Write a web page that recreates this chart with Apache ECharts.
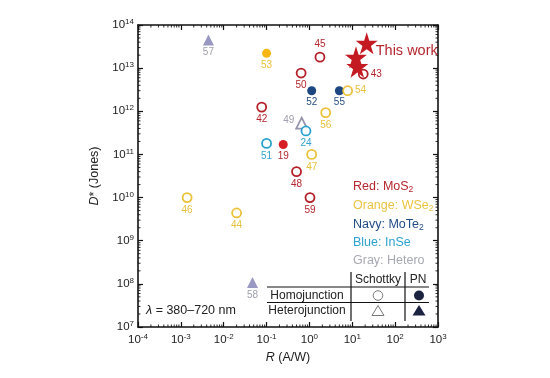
<!DOCTYPE html>
<html><head><meta charset="utf-8">
<script src="https://cdn.jsdelivr.net/npm/echarts@6/dist/echarts.min.js"></script>
<style>html,body{margin:0;padding:0;background:#fff}#c{width:550px;height:378px}</style>
</head><body><div id="c"></div>
<script>
// ---- data ----
const ids = ['57','53','45','50','52','55','54','43','42','56','49','24','51','19','47','48','59','46','44','58'];
const responsivity = [0.0044,0.1,1.76,0.64,1.13,5.0,7.8,18,0.077,2.4,0.66,0.83,0.1,0.245,1.13,0.5,1.03,0.0014,0.02,0.047];
const detectivity = [4.5e13,2.2e13,1.8e13,7.7e12,3e12,3e12,3e12,7.3e12,1.25e12,9.3e11,5.3e11,3.5e11,1.8e11,1.7e11,1e11,4e10,1e10,1e10,4.4e9,1.07e8];
const materials = ['Hetero','WSe2','MoS2','MoS2','MoTe2','MoTe2','WSe2','MoS2','MoS2','WSe2','Hetero','InSe','InSe','MoS2','WSe2','MoS2','MoS2','WSe2','WSe2','Hetero'];
const junctions = ['PN','PN','Schottky','Schottky','PN','PN','Schottky','Schottky','Schottky','Schottky','Schottky','Schottky','Schottky','PN','Schottky','Schottky','Schottky','Schottky','Schottky','PN'];
const thisWorkR = [21.7, 12.2, 13.1];
const thisWorkD = [3.76e13, 1.78e13, 1.08e13];
const xDecades = [-4,-3,-2,-1,0,1,2];
const yDecades = [7,8,9,10,11,12,13];
const minorMultipliers = [2,3,4,5,6,7,8,9];

// ---- styles ----
const FONT = 'Liberation Sans, Arial, sans-serif';
const openColor = {MoS2:'#B51F28', WSe2:'#EBC23A', MoTe2:'#1C4682', InSe:'#2AA2CE', Hetero:'#9494AC'};
const fillColor = {MoS2:'#D81E25', WSe2:'#F6B714', MoTe2:'#1C4682', InSe:'#2AA2CE', Hetero:'#9898C2'};
const labelColor = {MoS2:'#B5262E', WSe2:'#E8C13C', MoTe2:'#2A4F86', InSe:'#2FA3CF', Hetero:'#A0A0B0'};
const labelPos = {'45':'top','54':'right','43':'right','49':'left'};

const pts = ids.map((id,i)=>{
  const m = materials[i], pn = junctions[i]==='PN';
  const tri = m==='Hetero';
  const pos = labelPos[id]||'bottom';
  return {
    value:[responsivity[i], detectivity[i]],
    name:id,
    symbol: tri ? 'triangle' : 'circle',
    symbolSize: tri ? 11 : 9,
    itemStyle: pn ? {color: fillColor[m], opacity:1} : {color:'#fff', borderColor: openColor[m], borderWidth:1.8, opacity:1},
    label:{show:true, formatter:id, position:pos, distance: pos==='left'?1:2,
      offset: pos==='left'?[0,-3]:[0,0],
      color: labelColor[m], fontSize:10, fontFamily:FONT}
  };
});
const stars = thisWorkR.map((r,i)=>({
  value:[r, thisWorkD[i]],
  label: i===0 ? {show:true, formatter:'This work', position:'right', distance:-2, offset:[0,8], color:'#B5262E', fontSize:14.5, fontFamily:FONT} : {show:false}
}));

const xMinor = [], yMinor = [];
xDecades.forEach(e=>minorMultipliers.forEach(m=>xMinor.push([m*Math.pow(10,e), 1e10])));
yDecades.forEach(e=>minorMultipliers.forEach(m=>yMinor.push([1, m*Math.pow(10,e)])));

const supLabel = v => '{b|10}{s|' + Math.round(Math.log10(v)) + '}';
const richSup = {b:{fontSize:11.5, color:'#222', fontFamily:FONT}, s:{fontSize:8, color:'#222', fontFamily:FONT, verticalAlign:'top', padding:[0,0,6,0]}};

function baseAxis(extra){
  return Object.assign({
    type:'log', logBase:10,
    axisLine:{show:true, onZero:false, lineStyle:{color:'#111', width:1.6}},
    axisTick:{show:true, inside:true, length:5, lineStyle:{color:'#111', width:1.2}},
    minorTick:{show:false},
    splitLine:{show:false}, minorSplitLine:{show:false}
  }, extra);
}
const tickStyle = {stroke:'#111', lineWidth:0.9};
const MINOR = 2.5;

const option = {
  animation:false,
  grid:{left:138, top:25, width:300, height:302, containLabel:false},
  xAxis:[
    baseAxis({position:'bottom', min:1e-4, max:1e3,
      axisLabel:{formatter:supLabel, rich:richSup, margin:6},
      name:'{i|R} (A/W)', nameLocation:'middle', nameGap:21,
      nameTextStyle:{fontSize:12.5, color:'#222', fontFamily:FONT, rich:{i:{fontStyle:'italic', fontSize:12.5, color:'#222', fontFamily:FONT}}}}),
    baseAxis({position:'top', min:1e-4, max:1e3, axisLabel:{show:false}})
  ],
  yAxis:[
    baseAxis({position:'left', min:1e7, max:1e14,
      axisLabel:{formatter:supLabel, rich:richSup, margin:4},
      name:'{i|D}{n|*} (Jones)', nameLocation:'middle', nameGap:30,
      nameTextStyle:{fontSize:12.5, color:'#222', fontFamily:FONT, rich:{i:{fontStyle:'italic', fontSize:12.5, color:'#222', fontFamily:FONT}, n:{fontSize:12.5, color:'#222', fontFamily:FONT}}}}),
    baseAxis({position:'right', min:1e7, max:1e14, axisLabel:{show:false}})
  ],
  series:[
    {type:'custom', xAxisIndex:0, yAxisIndex:0, data:xMinor, silent:true, clip:false, z:1,
      renderItem:(params, api)=>{
        const p = api.coord([api.value(0), api.value(1)]);
        const cs = params.coordSys, b = cs.y+cs.height, t = cs.y;
        return {type:'group', children:[
          {type:'line', shape:{x1:p[0], y1:b, x2:p[0], y2:b-MINOR}, style:tickStyle},
          {type:'line', shape:{x1:p[0], y1:t, x2:p[0], y2:t+MINOR}, style:tickStyle}
        ]};
      }},
    {type:'custom', xAxisIndex:0, yAxisIndex:0, data:yMinor, silent:true, clip:false, z:1,
      renderItem:(params, api)=>{
        const p = api.coord([api.value(0), api.value(1)]);
        const cs = params.coordSys, l = cs.x, r = cs.x+cs.width;
        return {type:'group', children:[
          {type:'line', shape:{x1:l, y1:p[1], x2:l+MINOR, y2:p[1]}, style:tickStyle},
          {type:'line', shape:{x1:r, y1:p[1], x2:r-MINOR, y2:p[1]}, style:tickStyle}
        ]};
      }},
    {type:'scatter', xAxisIndex:0, yAxisIndex:0, data:pts, z:3},
    {type:'scatter', xAxisIndex:0, yAxisIndex:0, data:stars, symbol:'path://M50,0 L61.8,36.2 L100,36.2 L69.1,58.8 L80.9,95.1 L50,72.7 L19.1,95.1 L30.9,58.8 L0,36.2 L38.2,36.2 Z', symbolSize:22, itemStyle:{color:'#C41A22', opacity:1}, z:4}
  ],
  graphic:[
    // material key
    {type:'text', left:353, top:180, style:{text:'{t|Red: MoS}{s|2}', rich:{t:{fontSize:12.5, fill:'#B5262E', fontFamily:FONT}, s:{fontSize:8.5, fill:'#B5262E', fontFamily:FONT, verticalAlign:'bottom', padding:[6,0,0,0]}}}},
    {type:'text', left:353, top:199, style:{text:'{t|Orange: WSe}{s|2}', rich:{t:{fontSize:12.5, fill:'#EBC440', fontFamily:FONT}, s:{fontSize:8.5, fill:'#EBC440', fontFamily:FONT, verticalAlign:'bottom', padding:[6,0,0,0]}}}},
    {type:'text', left:353, top:218, style:{text:'{t|Navy: MoTe}{s|2}', rich:{t:{fontSize:12.5, fill:'#1F4A86', fontFamily:FONT}, s:{fontSize:8.5, fill:'#1F4A86', fontFamily:FONT, verticalAlign:'bottom', padding:[6,0,0,0]}}}},
    {type:'text', left:353, top:236, style:{text:'Blue: InSe', fontSize:12.5, fill:'#2FA3CF', fontFamily:FONT}},
    {type:'text', left:353, top:254, style:{text:'Gray: Hetero', fontSize:12.5, fill:'#A8A8B4', fontFamily:FONT}},
    // junction table
    {type:'line', shape:{x1:267, y1:287, x2:429, y2:287}, style:{stroke:'#111', lineWidth:1.2}},
    {type:'line', shape:{x1:267, y1:302.5, x2:429, y2:302.5}, style:{stroke:'#111', lineWidth:1.2}},
    {type:'line', shape:{x1:351, y1:272, x2:351, y2:321}, style:{stroke:'#111', lineWidth:1.2}},
    {type:'line', shape:{x1:405, y1:272, x2:405, y2:321}, style:{stroke:'#111', lineWidth:1.2}},
    {type:'text', x:378, y:280, style:{text:'Schottky', fontSize:12, fill:'#222', fontFamily:FONT, align:'center', verticalAlign:'middle'}},
    {type:'text', x:418, y:280, style:{text:'PN', fontSize:12, fill:'#222', fontFamily:FONT, align:'center', verticalAlign:'middle'}},
    {type:'text', x:307, y:295.5, style:{text:'Homojunction', fontSize:12, fill:'#222', fontFamily:FONT, align:'center', verticalAlign:'middle'}},
    {type:'text', x:307, y:311, style:{text:'Heterojunction', fontSize:12, fill:'#222', fontFamily:FONT, align:'center', verticalAlign:'middle'}},
    {type:'circle', shape:{cx:378, cy:295.5, r:4.8}, style:{fill:'#fff', stroke:'#777', lineWidth:1}},
    {type:'circle', shape:{cx:419, cy:295.5, r:5}, style:{fill:'#1C2340'}},
    {type:'polygon', shape:{points:[[378,305.5],[372,315.5],[384,315.5]]}, style:{fill:'#fff', stroke:'#777', lineWidth:1}},
    {type:'polygon', shape:{points:[[419,305],[412.5,315.5],[425.5,315.5]]}, style:{fill:'#1C2340'}},
    // wavelength note
    {type:'text', left:146, top:304, style:{text:'{i|λ} = 380–720 nm', rich:{i:{fontStyle:'italic', fontSize:12.5, fill:'#222', fontFamily:FONT}}, fontSize:12.5, fill:'#222', fontFamily:FONT}}
  ]
};
const chart = echarts.init(document.getElementById('c'), null, {renderer:'canvas'});
chart.setOption(option);
</script></body></html>
